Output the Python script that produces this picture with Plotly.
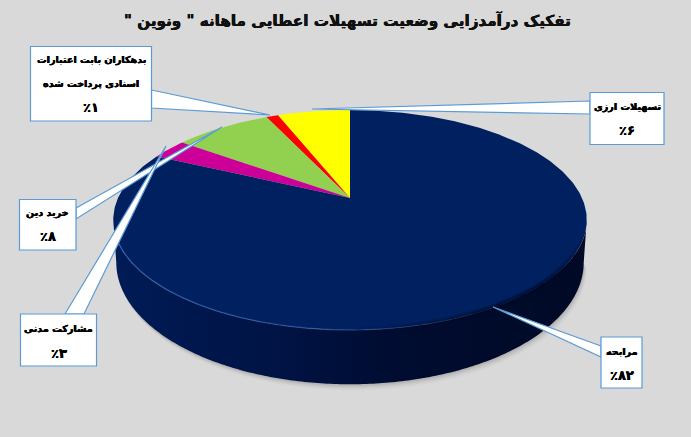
import numpy as np
import plotly.graph_objects as go

# Slices in drawing order, counter-clockwise from 12 o'clock
categories = ['تسهیلات ارزی', 'بدهکاران بابت اعتبارات اسنادی پرداخت شده', 'خرید دین', 'مشارکت مدنی', 'مرابحه']
shares = [6, 1, 8, 3, 82]
colors = ['#FFFF00', '#FF0000', '#92D050', '#CC0099', '#002060']

title = 'تفکیک درآمدزایی وضعیت تسهیلات اعطایی ماهانه " ونوین "\u200f'

# Callouts: text lines, box (x0, x1, y0, y1), pointer base and tip
label_lines = [
    ['تسهیلات ارزی', '٪۶'],
    ['بدهکاران بابت اعتبارات', 'اسنادی پرداخت شده', '٪۱'],
    ['خرید دین', '٪۸'],
    ['مشارکت مدنی', '٪۳'],
    ['مرابحه', '٪۸۲'],
]
label_boxes = [
    (590, 664, 92.5, 144.5),
    (30.5, 151.5, 46.5, 121),
    (19.5, 76, 199.5, 250),
    (20.5, 96.5, 314, 366),
    (601, 642, 337, 388),
]
label_y = [[107, 130], [60, 84, 107], [213, 236], [329, 353], [352, 375]]
pointers = [
    ((590, 101), (590, 114), (312, 109)),
    ((151.5, 90), (151.5, 108), (270, 115)),
    ((76, 208), (76, 219), (222, 127)),
    ((65, 314), (84, 314), (166, 146)),
    ((601, 346), (601, 357), (493, 307)),
]

BG = '#D9D9D9'
BORDER = '#5B9BD5'
FONT = 'DejaVu Sans'
HEAVY = '0.3px 0 0 black, -0.3px 0 0 black'

# fake 3d: perspective squash of a unit circle
CX = 350
K = 0.2


def project(theta, cy=198, ax=232, ay=105.6):
    u = -np.sin(theta)
    v = np.cos(theta)
    d = 1 + K * v
    return CX + ax * u / d, cy - ay * v / d


def bottom(theta):
    return project(theta, cy=238, ax=229, ay=117)


fig = go.Figure()

# front arc, between the widest points of the disc
front = np.linspace(np.arccos(-K), 2 * np.pi - np.arccos(-K), 241)

# soft shadow under the disc
for off, op in [(6, 0.03), (4.5, 0.05), (3, 0.07), (1.5, 0.09)]:
    x, y = bottom(front)
    fig.add_trace(go.Scatter(x=x + off * 0.5, y=y + off, fill='toself', mode='none',
                             fillcolor='rgba(60,60,60,%s)' % op, hoverinfo='skip'))

# side of the disc
x1, y1 = project(front)
x2, y2 = bottom(front[::-1])
fig.add_trace(go.Scatter(
    x=np.r_[x1, x2], y=np.r_[y1, y2], fill='toself', mode='none', hoverinfo='skip',
    fillgradient=dict(type='horizontal', colorscale=[[0, '#001B56'], [0.35, '#001344'],
                                                     [0.6, '#000C30'], [1, '#000A26']]),
))

# top face
edges = np.cumsum([0] + shares) / sum(shares) * 2 * np.pi
for i, name in enumerate(categories):
    n = max(int(shares[i] * 6), 8)
    th = np.linspace(edges[i], edges[i + 1], n)
    x, y = project(th)
    fig.add_trace(go.Scatter(x=np.r_[CX, x, CX], y=np.r_[198, y, 198], fill='toself',
                             mode='lines', line=dict(width=0), fillcolor=colors[i],
                             name=name, hoverinfo='skip'))

# rim: light on the left, dark blur on the right
rim = np.linspace(np.radians(108), np.radians(250), 30)
for a, b in zip(rim[:-1], rim[1:]):
    mid = np.degrees((a + b) / 2)
    x, y = project(np.linspace(a, b, 5))
    if mid > 180:
        fade = min((mid - 180) / 30, (250 - mid) / 25, 1)
        for w, f in [(7, 0.25), (4, 0.35), (2, 0.5)]:
            col = 'rgba(0,8,36,%.2f)' % (f * fade)
            fig.add_trace(go.Scatter(x=x, y=y, mode='lines', hoverinfo='skip',
                                     line=dict(color=col, width=w)))
    if mid < 215:
        col = 'rgba(60,100,175,%.2f)' % (0.7 * min(1, (215 - mid) / 60))
        fig.add_trace(go.Scatter(x=x, y=y, mode='lines', hoverinfo='skip',
                                 line=dict(color=col, width=1.4)))

shapes = []
annotations = []
for box, (p0, p1, tip) in zip(label_boxes, pointers):
    shapes.append(dict(type='path', xref='x', yref='y', fillcolor='white',
                       path='M %s %s L %s %s L %s %s Z' % (*p0, *tip, *p1),
                       line=dict(color=BORDER, width=1.2)))
    shapes.append(dict(type='rect', xref='x', yref='y', x0=box[0], x1=box[1], y0=box[2], y1=box[3],
                       fillcolor='white', line=dict(color=BORDER, width=1.2)))

for box, lines, ys in zip(label_boxes, label_lines, label_y):
    for txt, yy in zip(lines, ys):
        # the percent lines sit larger than the names
        size = 13 if txt.startswith('٪') else 9.6
        annotations.append(dict(x=(box[0] + box[1]) / 2, y=yy, xref='x', yref='y', text='<b>%s</b>' % txt,
                                showarrow=False, font=dict(family=FONT, size=size, color='black', shadow=HEAVY)))

annotations.append(dict(x=347, y=20, xref='x', yref='y', text='<b>%s</b>' % title, showarrow=False,
                        font=dict(family=FONT, size=15.2, color='#111111', shadow=HEAVY)))

fig.update_layout(
    width=691, height=437, margin=dict(l=0, r=0, t=0, b=0),
    paper_bgcolor=BG, plot_bgcolor=BG, showlegend=False,
    xaxis=dict(range=[0, 691], visible=False, fixedrange=True),
    yaxis=dict(range=[437, 0], visible=False, fixedrange=True),
    shapes=shapes, annotations=annotations,
)

fig.write_html("out.html", post_script="document.body.style.margin='0';", config=dict(displayModeBar=False))
